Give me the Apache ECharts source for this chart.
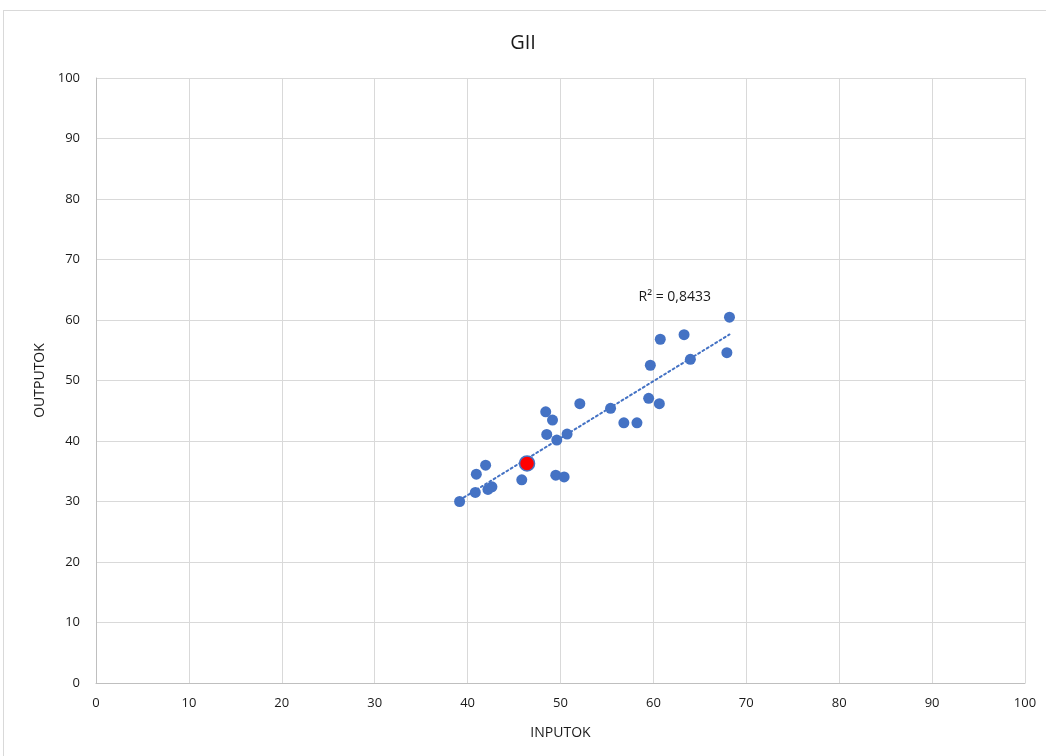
<!DOCTYPE html>
<html>
<head>
<meta charset="utf-8">
<script src="https://cdn.jsdelivr.net/npm/echarts@6/dist/echarts.min.js"></script>
<style>
html,body{margin:0;padding:0;background:#fff;}
#frame{position:absolute;left:3px;top:10px;width:1100px;height:800px;border:1px solid #d9d9d9;box-sizing:border-box;}
#chart{position:absolute;left:0;top:0;width:1046px;height:756px;}
</style>
</head>
<body>
<div id="frame"></div>
<div id="chart"></div>
<script>
const titleText = "GII";
const xName = "INPUTOK";
const yName = "OUTPUTOK";
const r2Label = "R² = 0,8433";
const inputX = [39.14,40.83,40.94,41.94,42.19,42.62,45.83,48.41,49.14,48.52,49.60,49.49,50.39,50.71,52.08,55.39,56.82,58.23,59.67,59.49,60.74,60.64,63.30,63.98,67.91,68.19];
const outputY = [30.0,31.49,34.52,36.01,31.99,32.42,33.58,44.83,43.46,41.09,40.15,34.35,34.07,41.14,46.16,45.40,43.01,43.01,52.52,47.05,56.82,46.16,57.58,53.51,54.60,60.46];
const highlightX = [46.40];
const highlightY = [36.29];

const allX = inputX.concat(highlightX);
const allY = outputY.concat(highlightY);
const n = allX.length;
const mx = allX.reduce((a,b)=>a+b,0)/n;
const my = allY.reduce((a,b)=>a+b,0)/n;
let sxy=0,sxx=0;
for(let i=0;i<n;i++){sxy+=(allX[i]-mx)*(allY[i]-my);sxx+=(allX[i]-mx)**2;}
const slope=sxy/sxx, icpt=my-slope*mx;
const xmin=Math.min(...allX), xmax=Math.max(...allX);
const trend=[[xmin,icpt+slope*xmin],[xmax,icpt+slope*xmax]];

const font = "'Open Sans', sans-serif";
const txt = '#1a1a1a';
const chart = echarts.init(document.getElementById('chart'));
chart.setOption({
  animation:false,
  title:{text:titleText,left:'center',top:28,textStyle:{fontFamily:font,fontSize:20,fontWeight:'normal',color:txt}},
  grid:{left:96,right:21,top:78,bottom:73},
  xAxis:{type:'value',min:0,max:100,interval:10,name:xName,nameLocation:'middle',nameGap:43,
    nameTextStyle:{fontFamily:font,fontSize:14,color:txt},
    axisLine:{show:true,lineStyle:{color:'#bfbfbf'}},axisTick:{show:false},
    axisLabel:{fontFamily:font,fontSize:13,color:txt,margin:14},
    splitLine:{show:true,lineStyle:{color:'#d9d9d9',width:1}}},
  yAxis:{type:'value',min:0,max:100,interval:10,name:yName,nameLocation:'middle',nameGap:44,
    nameTextStyle:{fontFamily:font,fontSize:14,color:txt},
    axisLine:{show:true,lineStyle:{color:'#bfbfbf'}},axisTick:{show:false},
    axisLabel:{fontFamily:font,fontSize:13,color:txt,margin:16},
    splitLine:{show:true,lineStyle:{color:'#d9d9d9',width:1}}},
  series:[
    {type:'line',data:trend,showSymbol:false,symbol:'none',silent:true,z:1,
     lineStyle:{color:'#4472C4',width:2,type:[2,3],cap:'round'},
     endLabel:{show:true,formatter:r2Label,offset:[-99,-37],fontFamily:font,fontSize:14,color:txt}},
    {type:'scatter',data:inputX.map((x,i)=>[x,outputY[i]]),symbolSize:11,z:3,
     itemStyle:{color:'#4472C4',opacity:1}},
    {type:'scatter',data:highlightX.map((x,i)=>[x,highlightY[i]]),symbolSize:15,z:4,
     itemStyle:{color:'#FF0000',borderColor:'#4472C4',borderWidth:1.5,opacity:1}}
  ]
});
</script>
</body>
</html>
